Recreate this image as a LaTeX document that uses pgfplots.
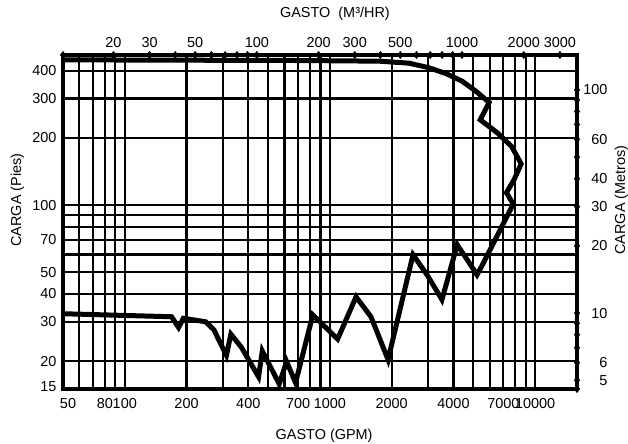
\documentclass[border=0pt]{standalone}
\usepackage{fontspec}
\setmainfont{Liberation Sans}
\usepackage{pgfplots}
\pgfplotsset{compat=1.18}

\newcommand{\lbl}{\fontsize{14.5}{17}\selectfont}

\begin{document}
\begin{tikzpicture}
\useasboundingbox (-63bp,-55bp) rectangle (565bp,389bp);
% GPM / pies
\begin{axis}[
  scale only axis, width=514bp, height=334bp,
  xmode=log, ymode=log,
  major tick length=0pt, minor tick length=0pt,
  tick label style={font=\lbl},
  /pgf/number format/assume math mode=true,
  clip=false,
  xmin=50, xmax=16000, ymin=15, ymax=470,
  xtick={50,80,100,200,400,700,1000,2000,4000,7000,10000},
  xticklabels={\hspace*{10bp}50,80,100,200,400,700,1000,2000,4000,7000,10000},
  minor xtick={60,70,90,300,500,600,800,900,3000,5000,6000,8000,9000},
  ytick={15,20,30,40,50,70,100,200,300,400},
  yticklabels={\raisebox{5bp}{15},20,30,40,50,70,100,200,300,400},
  minor ytick={60,80,90},
  grid=both,
  major grid style={black, line width=2.2bp},
  minor grid style={black, line width=2.2bp},
  axis line style={draw=none},
  xticklabel style={yshift=-6bp},
  yticklabel style={xshift=-3bp},
]
\addplot[black, line width=5bp] coordinates {
  (50,32.6) (169,31.6) (183,28.3) (193,31.1) (248,30.0) (272,27.6)
  (313,21.2) (329,26.4) (370,23.1) (449,17.0) (468,22.2) (566,15.8)
  (615,19.9) (680,16.0) (825,32.2) (1090,25.1) (1340,38.8) (1585,31.6)
  (1920,20.3) (2540,59.9) (2974,48.7) (3515,37.7) (4170,66.4) (4770,55.2)
  (5210,48.7) (5510,53.5) (7820,101) (7250,113.6) (7900,130) (8550,153)
  (7680,183) (6530,211) (5400,241) (5970,288) (5155,323) (4405,359)
  (3680,388) (3041,412) (2430,432) (1734,441) (700,444) (50,447)
};
\draw[black, line width=4bp] (rel axis cs:0,0) rectangle (rel axis cs:1,1);
\node[font=\lbl, anchor=base] at (axis description cs:0.508,-0.1527) {GASTO (GPM)};
\node[font=\lbl, anchor=base] at (axis description cs:0.529,1.1123) {GASTO\ \ (M³/HR)};
\node[font=\lbl, anchor=base, rotate=90] at (axis description cs:-0.0817,0.566) {CARGA (Pies)};
\node[font=\lbl, anchor=base, rotate=90] at (axis description cs:1.0934,0.566) {CARGA (Metros)};
\end{axis}
% m3/h / metros
\begin{axis}[
  scale only axis, width=514bp, height=334bp,
  xmode=log, ymode=log,
  major tick length=0pt, minor tick length=0pt,
  tick label style={font=\lbl},
  /pgf/number format/assume math mode=true,
  clip=false,
  xmin=11.356, xmax=3634, ymin=4.572, ymax=143.26,
  axis x line*=top, axis y line*=right,
  axis line style={draw=none},
  xtick={20,30,50,100,200,300,500,1000,2000,3000},
  xticklabels={20,30,50,100,200,300,500,1000,2000,3000},
  ytick={5,6,10,20,30,40,60,100},
  yticklabels={5,6,10,20,30,40,60,100},
  xticklabel style={yshift=4bp},
  yticklabel style={anchor=east, xshift=34bp},
]
\addplot[only marks, mark=diamond*, mark size=3.4bp, black,
  mark options={draw=black, fill=black, line width=0.8bp}] coordinates {
  (11.356,143.26) (20,143.26) (30,143.26) (40,143.26) (50,143.26)
  (60,143.26) (70,143.26) (80,143.26) (90,143.26) (100,143.26)
  (200,143.26) (300,143.26) (400,143.26) (500,143.26) (600,143.26)
  (700,143.26) (800,143.26) (900,143.26) (1000,143.26) (2000,143.26)
  (3000,143.26)
};
\addplot[only marks, mark=diamond*, mark size=3.4bp, black,
  mark options={draw=black, fill=black, line width=0.8bp}] coordinates {
  (3634,4.572) (3634,5) (3634,6) (3634,7) (3634,8) (3634,9) (3634,10)
  (3634,20) (3634,30) (3634,40) (3634,50) (3634,60) (3634,70)
  (3634,80) (3634,90) (3634,100)
};
\end{axis}
\end{tikzpicture}
\end{document}
